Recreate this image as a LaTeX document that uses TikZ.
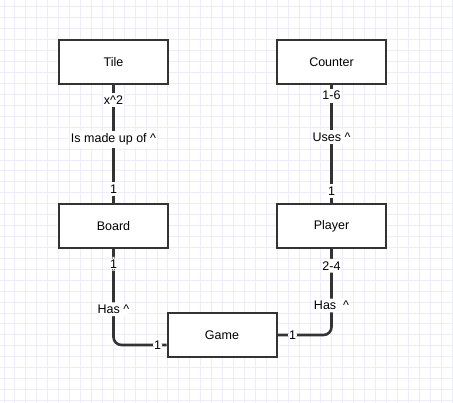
\documentclass[tikz,border=0pt]{standalone}
\usepackage{fontspec}
\setmainfont{Liberation Sans}
\definecolor{gridc}{RGB}{236,236,251}
\definecolor{boxc}{RGB}{51,51,51}
\definecolor{linec}{RGB}{51,51,51}
\begin{document}
\begin{tikzpicture}[x=1pt,y=-1pt,
  box/.style={draw=boxc, line width=2pt, fill=white, minimum width=109pt, minimum height=44pt, inner sep=0pt, font=\fontsize{12.5}{14}\selectfont},
  conn/.style={draw=linec, line width=2.6pt},
  lbl/.style={fill=white, inner xsep=1pt, inner ysep=2.5pt, font=\fontsize{12.5}{14}\selectfont, text=black}]
\fill[white] (0,0) rectangle (453,403);
\useasboundingbox (0,0) rectangle (453,403);
\foreach \i in {0,...,41} \draw[gridc, line width=1pt] ({4+10.93*\i},0) -- ({4+10.93*\i},403);
\foreach \j in {0,...,36} \draw[gridc, line width=1pt] (0,{7+10.93*\j}) -- (453,{7+10.93*\j});

\node[box] (tile) at (113.5,62) {Tile};
\node[box] (counter) at (331.5,62) {Counter};
\node[box] (board) at (113.5,226) {Board};
\node[box] (player) at (331.5,226) {Player};
\node[box] (game) at (222,335) {Game};

\draw[conn] (tile.south) -- (board.north)
  node[lbl, pos=0.13] {x\^{}2}
  node[lbl, pos=0.46] {Is made up of \^{}}
  node[lbl, pos=0.88] {1};
\draw[conn] (counter.south) -- (player.north)
  node[lbl, pos=0.09] {1-6}
  node[lbl, pos=0.44] {Uses \^{}}
  node[lbl, pos=0.9] {1};
\coordinate (gw) at ([yshift=-10pt]game.west);
\draw[conn, rounded corners=8pt] (board.south) |- (gw)
  node[lbl, pos=0.077] {1}
  node[lbl, pos=0.314] {Has \^{}}
  node[lbl, pos=0.917] {1};
\draw[conn, rounded corners=8pt] (game.east) -| (player.south)
  node[lbl, pos=0.139] {1}
  node[lbl, pos=0.672] {Has\ \ \^{}}
  node[lbl, pos=0.902] {2-4};
\end{tikzpicture}
\end{document}
